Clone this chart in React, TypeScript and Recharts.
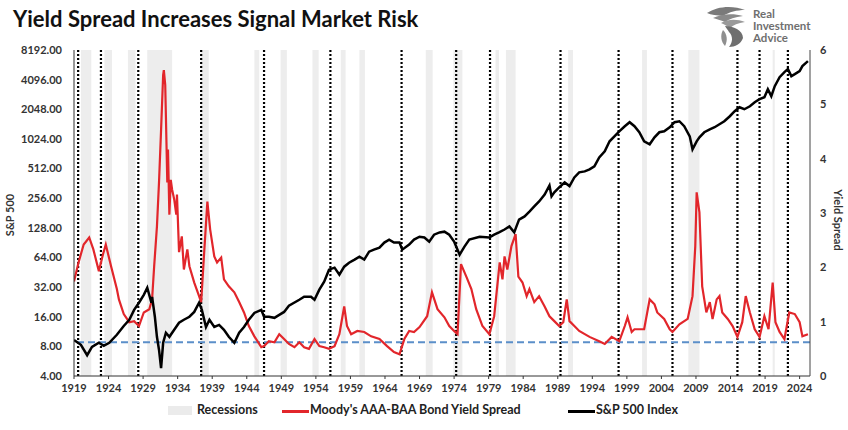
import {
  ComposedChart,
  Line,
  XAxis,
  YAxis,
  ReferenceArea,
  ReferenceLine,
} from "recharts";

// S&P 500 index (left, log axis)
const spxYears = [
  1919.0, 1920.0, 1920.9, 1921.6, 1922.6, 1923.3, 1924.1, 1925.2, 1926.2, 1927.0,
  1927.7, 1928.4, 1929.1, 1929.6, 1930.2, 1930.3, 1930.7, 1931.0, 1931.3, 1931.6,
  1931.9, 1932.3, 1932.8, 1933.5, 1934.2, 1934.9, 1935.7, 1936.4, 1937.1, 1937.5,
  1938.1, 1938.6, 1939.3, 1940.0, 1940.7, 1941.4, 1942.2, 1942.9, 1943.6, 1944.3,
  1945.1, 1946.1, 1946.5, 1947.2, 1948.0, 1948.7, 1949.4, 1950.1, 1951.6, 1952.3,
  1953.3, 1953.8, 1954.5, 1955.2, 1955.9, 1956.7, 1957.4, 1958.1, 1958.8, 1959.6,
  1960.3, 1961.0, 1961.7, 1962.4, 1963.2, 1963.9, 1964.6, 1965.3, 1966.1, 1966.5,
  1967.5, 1968.2, 1969.0, 1969.7, 1970.4, 1971.1, 1971.9, 1972.6, 1973.3, 1974.0,
  1974.8, 1975.5, 1976.2, 1977.7, 1979.1, 1979.8, 1980.5, 1981.3, 1982.0, 1982.7,
  1983.4, 1984.2, 1984.9, 1985.6, 1986.3, 1987.1, 1987.8, 1988.1, 1988.5, 1989.2,
  1990.0, 1990.7, 1991.4, 1992.1, 1992.9, 1993.6, 1994.3, 1995.0, 1995.8, 1996.5,
  1997.2, 1997.9, 1998.7, 1999.4, 2000.1, 2000.8, 2001.5, 2002.3, 2003.0, 2003.7,
  2004.4, 2005.2, 2005.9, 2006.6, 2007.3, 2008.1, 2008.5, 2009.1, 2009.5, 2010.2,
  2011.0, 2011.7, 2012.4, 2013.1, 2013.9, 2014.6, 2015.3, 2016.0, 2016.8, 2017.5,
  2018.2, 2018.9, 2019.4, 2019.9, 2020.4, 2021.1, 2021.8, 2022.3, 2022.8, 2023.3,
  2024.0, 2024.4, 2025.2,
];
const spxValues = [
  9.3, 8.3, 6.5, 7.9, 8.7, 8.1, 8.7, 10.5, 12.9, 14.9,
  18.8, 22.2, 26.7, 31.5, 22.2, 25.5, 16.0, 10.0, 7.4, 4.8,
  8.7, 11.0, 10.0, 11.8, 13.9, 14.9, 16.0, 17.9, 22.2, 18.8,
  12.6, 14.9, 12.6, 13.2, 11.8, 10.0, 8.7, 11.0, 12.6, 14.9,
  17.5, 18.8, 16.0, 16.0, 15.6, 16.7, 17.9, 20.7, 23.8, 25.5,
  25.5, 23.8, 30.1, 36.3, 48.1, 50.4, 42.7, 51.6, 56.6, 60.8,
  65.2, 60.8, 73.3, 76.8, 80.6, 90.6, 97.1, 90.6, 90.6, 76.8,
  86.4, 97.1, 104, 102, 92.7, 109, 115, 117, 109, 92.7,
  68.3, 82.4, 97.1, 104, 102, 109, 115, 123, 132, 115,
  155, 167, 187, 211, 237, 279, 345, 267, 293, 329,
  370, 340, 416, 468, 479, 502, 539, 665, 765, 968,
  1088, 1224, 1377, 1512, 1377, 1196, 968, 902, 1062, 1196,
  1224, 1345, 1512, 1548, 1377, 1088, 802, 968, 1062, 1196,
  1282, 1345, 1442, 1548, 1740, 1956, 2148, 2050, 2199, 2417,
  2592, 2717, 3279, 2782, 3517, 4344, 4885, 5238, 4445, 4659,
  5000, 5623, 6320,
];

// Moody's AAA-BAA spread (right axis)
const spreadYears = [
  1919.0, 1919.7, 1920.4, 1921.2, 1921.8, 1922.6, 1923.2, 1923.6, 1924.4, 1925.2,
  1925.5, 1926.2, 1927.0, 1927.7, 1928.4, 1929.1, 1929.9, 1930.3, 1930.6, 1931.0,
  1931.3, 1931.6, 1931.9, 1932.0, 1932.2, 1932.3, 1932.5, 1932.6, 1932.8, 1933.0,
  1933.2, 1933.5, 1933.8, 1933.9, 1934.2, 1934.6, 1934.9, 1935.4, 1935.7, 1936.4,
  1937.1, 1937.4, 1937.8, 1938.3, 1938.7, 1939.3, 1939.7, 1940.3, 1940.7, 1941.4,
  1942.2, 1942.9, 1943.6, 1944.3, 1945.1, 1946.1, 1946.5, 1947.2, 1948.0, 1948.7,
  1949.4, 1950.1, 1950.9, 1951.6, 1952.3, 1953.0, 1953.8, 1954.5, 1955.2, 1955.9,
  1956.7, 1957.4, 1958.1, 1958.5, 1959.1, 1960.0, 1961.0, 1962.0, 1963.2, 1964.3,
  1965.3, 1966.1, 1966.8, 1967.5, 1968.2, 1969.0, 1970.1, 1970.8, 1971.6, 1972.6,
  1973.3, 1974.0, 1974.5, 1975.0, 1975.8, 1976.5, 1977.2, 1978.1, 1979.1, 1979.8,
  1980.6, 1981.0, 1981.3, 1981.7, 1982.3, 1982.9, 1983.3, 1983.9, 1984.5, 1984.9,
  1985.6, 1986.3, 1987.1, 1987.8, 1988.5, 1989.2, 1989.8, 1990.3, 1990.7, 1991.4,
  1992.1, 1993.6, 1995.0, 1995.8, 1996.8, 1997.9, 1998.7, 1999.1, 1999.7, 2000.1,
  2001.5, 2002.3, 2003.0, 2003.4, 2004.4, 2005.2, 2005.6, 2006.6, 2007.8, 2008.5,
  2008.9, 2009.1, 2009.5, 2009.9, 2010.5, 2011.0, 2011.4, 2012.0, 2012.4, 2012.8,
  2013.6, 2014.3, 2015.0, 2015.7, 2016.2, 2016.8, 2017.5, 2018.2, 2018.9, 2019.5,
  2020.1, 2020.5, 2021.1, 2021.8, 2022.5, 2023.3, 2024.0, 2024.4, 2025.2,
];
const spreadValues = [
  1.74, 2.11, 2.42, 2.55, 2.33, 1.93, 2.24, 2.42, 2.0, 1.6,
  1.41, 1.14, 0.99, 1.01, 0.92, 1.17, 1.23, 1.41, 2.02, 2.75,
  3.56, 4.53, 5.54, 5.63, 5.36, 4.77, 3.56, 4.17, 2.97, 3.61,
  3.43, 3.25, 2.97, 3.34, 2.28, 2.57, 1.96, 2.33, 2.02, 1.72,
  1.47, 1.36, 2.2, 3.21, 2.7, 2.2, 2.09, 2.18, 1.78, 1.65,
  1.54, 1.36, 1.17, 0.92, 0.73, 0.53, 0.55, 0.64, 0.62, 0.77,
  0.68, 0.59, 0.53, 0.62, 0.53, 0.5, 0.68, 0.55, 0.53, 0.5,
  0.55, 0.77, 1.28, 0.92, 0.77, 0.83, 0.81, 0.73, 0.68, 0.55,
  0.44, 0.4, 0.68, 0.83, 0.81, 0.9, 1.1, 1.54, 1.23, 1.08,
  0.92, 0.83, 0.77, 2.06, 1.82, 1.6, 1.23, 0.92, 0.77, 1.1,
  2.09, 1.78, 2.2, 1.96, 2.39, 2.61, 1.83, 1.72, 1.47, 1.6,
  1.36, 1.47, 1.28, 1.1, 1.01, 0.92, 0.99, 1.41, 1.01, 0.92,
  0.83, 0.72, 0.64, 0.59, 0.72, 0.64, 0.92, 1.08, 0.81, 0.86,
  0.86, 1.41, 1.32, 1.17, 1.05, 0.86, 0.81, 0.95, 1.05, 1.47,
  2.39, 3.38, 3.01, 1.65, 1.17, 1.36, 1.05, 1.41, 1.47, 1.17,
  1.05, 0.92, 0.72, 0.99, 1.47, 1.17, 0.86, 0.72, 1.1, 0.86,
  1.72, 0.99, 0.81, 0.68, 1.17, 1.14, 0.99, 0.73, 0.77,
];

const recessionStarts = [
  1920.0, 1923.4, 1926.8, 1929.6, 1937.4, 1945.1, 1948.9, 1953.5, 1957.6, 1960.3,
  1969.9, 1973.9, 1980.0, 1981.5, 1990.5, 2001.2, 2007.9, 2020.1,
];
const recessionEnds = [
  1921.5, 1924.5, 1927.9, 1933.2, 1938.5, 1945.8, 1949.8, 1954.4, 1958.3, 1961.1,
  1970.9, 1975.2, 1980.5, 1982.9, 1991.2, 2001.9, 2009.5, 2020.4,
];
const signalYears = [
  1919.6, 1922.9, 1928.3, 1937.4, 1946.5, 1956.1, 1966.4, 1974.3, 1979.2, 1989.4,
  1997.8, 2005.6, 2015.0, 2018.2, 2022.3,
];
const spreadFloor = 0.62;

const yearTicks = [
  1919, 1924, 1929, 1934, 1939, 1944, 1949, 1954, 1959, 1964, 1969, 1974, 1979,
  1984, 1989, 1994, 1999, 2004, 2009, 2014, 2019, 2024,
];
const spxTicks = [4, 8, 16, 32, 64, 128, 256, 512, 1024, 2048, 4096, 8192];
const spreadTicks = [0, 1, 2, 3, 4, 5, 6];

const spxData = spxYears.map((year, i) => ({ year, spx: spxValues[i] }));
const spreadData = spreadYears.map((year, i) => ({ year, spread: spreadValues[i] }));

const FONT = "Lato, 'Open Sans', sans-serif";
const tickStyle = { fontSize: 11, fontWeight: 700, fill: "#333", fontFamily: FONT };

function Logo() {
  return (
    <div style={{ position: "absolute", left: 703, top: 4, display: "flex", alignItems: "center" }}>
      <svg width={46} height={44} viewBox="0 0 46 44">
        <path d="M4 9 C14 2 30 1 42 6 C34 6 26 8 20 12 C14 11 8 11 4 9 Z" fill="#7a7a7a" />
        <path d="M10 14 C18 10 30 9 40 12 C32 13 26 15 22 18 C18 16 13 15 10 14 Z" fill="#8a8a8a" />
        <path d="M18 19 C25 15 34 15 42 18 C35 19 30 21 27 24 C24 22 21 20 18 19 Z" fill="#9a9a9a" />
        <path d="M22 22 C30 22 40 26 40 34 C38 40 32 43 26 43 C30 38 30 32 26 28 C25 26 23 24 22 22 Z" fill="#6f6f6f" />
        <path d="M20 26 C24 30 25 36 22 42 C18 38 17 31 20 26 Z" fill="#8f8f8f" />
      </svg>
      <div
        style={{
          marginLeft: 4,
          fontFamily: FONT,
          fontWeight: 700,
          fontSize: 11.5,
          lineHeight: "12px",
          color: "#6f6f6f",
        }}
      >
        Real
        <br />
        Investment
        <br />
        Advice
      </div>
    </div>
  );
}

function LegendRow() {
  const text = { fontFamily: FONT, fontWeight: 700, fontSize: 12.5, color: "#222" };
  return (
    <div style={{ position: "absolute", left: 0, top: 402, width: 848, height: 18 }}>
      <div style={{ position: "absolute", left: 168, top: 4, width: 24, height: 9, background: "#ebebeb" }} />
      <div style={{ ...text, position: "absolute", left: 197, top: 0 }}>Recessions</div>
      <div style={{ position: "absolute", left: 282, top: 8, width: 27, height: 2.5, background: "#e2262b" }} />
      <div style={{ ...text, position: "absolute", left: 310, top: 0 }}>Moody's AAA-BAA Bond Yield Spread</div>
      <div style={{ position: "absolute", left: 568, top: 8, width: 27, height: 2.5, background: "#000" }} />
      <div style={{ ...text, position: "absolute", left: 596, top: 0 }}>S&amp;P 500 Index</div>
    </div>
  );
}

export default function App() {
  return (
    <div
      style={{
        position: "absolute",
        left: 0,
        top: 0,
        width: 848,
        height: 430,
        background: "#fff",
        overflow: "hidden",
      }}
    >
      <div
        style={{
          position: "absolute",
          left: 13,
          top: 5,
          fontFamily: FONT,
          fontWeight: 700,
          fontSize: 22,
          color: "#111",
          whiteSpace: "nowrap",
        }}
      >
        Yield Spread Increases Signal Market Risk
      </div>
      <Logo />
      <div
        style={{
          position: "absolute",
          left: 9,
          top: 215,
          transform: "translate(-50%, -50%) rotate(-90deg)",
          fontFamily: FONT,
          fontWeight: 700,
          fontSize: 11,
          color: "#333",
          whiteSpace: "nowrap",
        }}
      >
        S&amp;P 500
      </div>
      <div
        style={{
          position: "absolute",
          left: 838,
          top: 220,
          transform: "translate(-50%, -50%) rotate(90deg)",
          fontFamily: FONT,
          fontWeight: 700,
          fontSize: 11,
          color: "#333",
          whiteSpace: "nowrap",
        }}
      >
        Yield Spread
      </div>
      <div style={{ position: "absolute", left: 0, top: 0 }}>
        <ComposedChart width={848} height={430} margin={{ top: 50, right: 10, bottom: 30, left: 14 }}>
          <XAxis
            xAxisId="x"
            type="number"
            dataKey="year"
            domain={[1919, 2025.5]}
            ticks={yearTicks}
            allowDataOverflow
            interval={0}
            height={24}
            tick={tickStyle}
            tickSize={3}
            tickMargin={5}
            stroke="#333"
          />
          <XAxis
            xAxisId="top"
            orientation="top"
            type="number"
            dataKey="year"
            domain={[1919, 2025.5]}
            height={0}
            tick={false}
            tickLine={false}
            stroke="#444"
          />
          <YAxis
            yAxisId="left"
            scale="log"
            domain={[4, 8192]}
            ticks={spxTicks}
            allowDataOverflow
            interval={0}
            width={60}
            tick={tickStyle}
            tickSize={0}
            tickMargin={12}
            tickFormatter={(v: number) => v.toFixed(2)}
            stroke="#333"
          />
          <YAxis
            yAxisId="right"
            orientation="right"
            domain={[0, 6]}
            ticks={spreadTicks}
            interval={0}
            width={28}
            tick={tickStyle}
            tickSize={0}
            tickMargin={10}
            stroke="#444"
          />
          {recessionStarts.map((start, i) => (
            <ReferenceArea
              key={`rec-${i}`}
              xAxisId="x"
              yAxisId="right"
              x1={start}
              x2={recessionEnds[i]}
              y1={0}
              y2={6}
              fill="#ededed"
              fillOpacity={1}
              stroke="none"
            />
          ))}
          {signalYears.map((yr) => (
            <ReferenceLine
              key={`sig-${yr}`}
              xAxisId="x"
              yAxisId="right"
              x={yr}
              stroke="#000"
              strokeWidth={2.2}
              strokeDasharray="2 2"
            />
          ))}
          <ReferenceLine
            xAxisId="x"
            yAxisId="right"
            y={spreadFloor}
            stroke="#5b8fc9"
            strokeWidth={2}
            strokeDasharray="7 4"
          />
          <Line
            xAxisId="x"
            yAxisId="right"
            data={spreadData}
            dataKey="spread"
            type="linear"
            stroke="#e2262b"
            strokeWidth={2.2}
            dot={false}
            isAnimationActive={false}
          />
          <Line
            xAxisId="x"
            yAxisId="left"
            data={spxData}
            dataKey="spx"
            type="linear"
            stroke="#000"
            strokeWidth={2.5}
            dot={false}
            isAnimationActive={false}
          />
        </ComposedChart>
      </div>
      <LegendRow />
    </div>
  );
}
